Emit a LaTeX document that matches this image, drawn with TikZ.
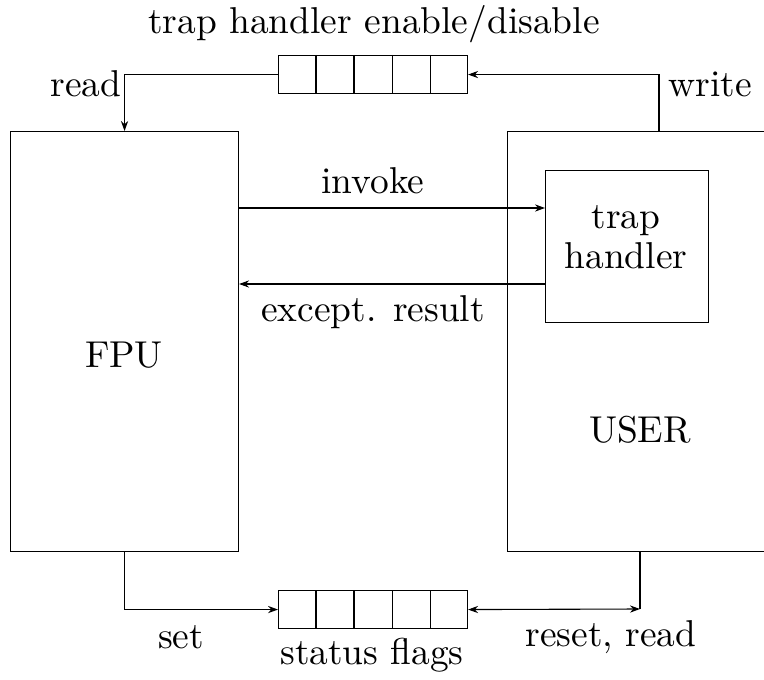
\documentclass[tikz,border=0pt]{standalone}
\usepackage{fontspec}
\setmainfont{lmroman10-regular.otf}
\usetikzlibrary{arrows.meta,calc}
\begin{document}
\begin{tikzpicture}[x=0.5pt,y=-0.5pt,
  every node/.style={font=\fontsize{18.7}{22}\selectfont, inner sep=0pt},
  box/.style={draw, line width=0.55pt, rectangle, anchor=north west},
  conn/.style={line width=0.55pt},
  arr/.style={conn, -{Stealth[length=5pt,width=3.6pt]}},
  darr/.style={conn, {Stealth[length=5pt,width=3.6pt]}-{Stealth[length=5pt,width=3.6pt]}}]
\clip (0,0) rectangle (764,679);
% boxes
\node[box, minimum width=114pt, minimum height=210pt] (fpu) at (10,131) {};
\node[box, minimum width=140pt, minimum height=210pt] (user) at (507,131) {};
\node[box, minimum width=81.5pt, minimum height=76pt] (th) at (545,170) {};
\node (fpulbl) at (124,355) {FPU};
\node (userlbl) at (640,430) {USER};
\node[align=center] (thlbl) at (626,237) {trap\\[-2pt]handler};
% registers
\node[box, minimum width=94.5pt, minimum height=19pt] (topreg) at (278,55) {};
\node[box, minimum width=94.5pt, minimum height=19pt] (botreg) at (278,590) {};
\foreach \i in {1,2,3,4}{
  \draw[conn] ($(topreg.north west)!\i/5!(topreg.north east)$) -- ($(topreg.south west)!\i/5!(topreg.south east)$);
  \draw[conn] ($(botreg.north west)!\i/5!(botreg.north east)$) -- ($(botreg.south west)!\i/5!(botreg.south east)$);
}
% labels
\node (title) at (374,24) {trap handler enable/disable};
\node (lread) at (86,84) {read};
\node (lwrite) at (710,84) {write};
\node (linvoke) at (373,181) {invoke};
\node (lexc) at (373,312) {except. result};
\node (lset) at (181,637) {set};
\node (lstatus) at (372,655) {status flags};
\node (lreset) at (611,637) {reset, read};
% coordinates
\coordinate (wr) at (659,131);
\coordinate (inv) at (0,208);
\coordinate (exc) at (0,284);
\coordinate (rr) at (640,551);
\coordinate (rrc) at (640,609);
% connectors
\draw[arr] (topreg.west) -| (fpu.north);
\draw[arr] (wr) |- (topreg.east);
\draw[arr] (fpu.east |- inv) -- (th.west |- inv);
\draw[arr] (th.west |- exc) -- (fpu.east |- exc);
\draw[arr] (fpu.south) |- (botreg.west);
\draw[conn] (rr) -- (rrc);
\draw[darr] (botreg.east) -- (rrc);
\end{tikzpicture}
\end{document}
